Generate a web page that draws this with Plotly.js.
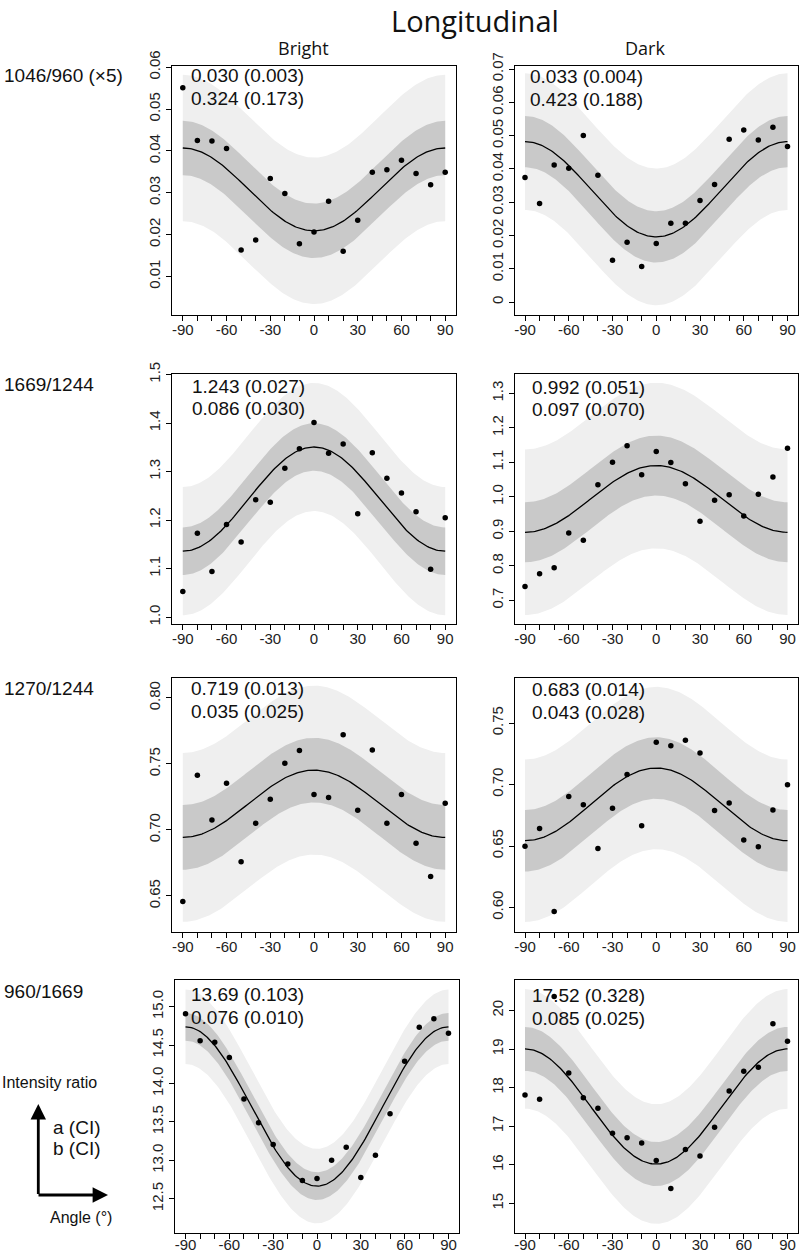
<!DOCTYPE html>
<html><head><meta charset="utf-8">
<script src="https://cdn.plot.ly/plotly-3.0.1.min.js"></script>
<style>html,body{margin:0;padding:0;background:#fff;} #chart{width:800px;height:1253px;}</style>
</head><body><div id="chart"></div>
<script>
// ---------- data ----------
const angleDeg = [-90,-80,-70,-60,-50,-40,-30,-20,-10,0,10,20,30,40,50,60,70,80,90];
const bright1046 = [0.0551,0.0425,0.0424,0.0406,0.0163,0.0187,0.0334,0.0298,0.0178,0.0206,0.0280,0.0160,0.0234,0.0349,0.0355,0.0378,0.0346,0.0319,0.0349];
const dark1046   = [0.0374,0.0296,0.0412,0.0402,0.0500,0.0381,0.0126,0.0180,0.0107,0.0176,0.0237,0.0237,0.0305,0.0353,0.0489,0.0517,0.0487,0.0525,0.0467];
const bright1669 = [1.053,1.173,1.094,1.191,1.155,1.242,1.237,1.307,1.347,1.401,1.338,1.357,1.213,1.339,1.286,1.256,1.217,1.099,1.205];
const dark1669   = [0.740,0.777,0.794,0.895,0.874,1.035,1.100,1.148,1.064,1.131,1.099,1.038,0.929,0.990,1.006,0.944,1.007,1.057,1.141];
const bright1270 = [0.6457,0.7415,0.7075,0.7354,0.6759,0.7050,0.7232,0.7506,0.7602,0.7268,0.7245,0.7721,0.7149,0.7605,0.7050,0.7268,0.6898,0.6647,0.7202];
const dark1270   = [0.6499,0.6643,0.5968,0.6903,0.6836,0.6480,0.6808,0.7082,0.6665,0.7343,0.7316,0.7359,0.7256,0.6789,0.6849,0.6548,0.6494,0.6792,0.6998];
const bright960  = [14.909,14.555,14.537,14.338,13.798,13.490,13.205,12.954,12.738,12.764,13.002,13.170,12.777,13.067,13.607,14.291,14.732,14.844,14.654];
const dark960    = [17.811,17.699,20.36,18.382,17.742,17.465,16.817,16.704,16.566,16.116,15.389,16.401,16.228,16.972,17.915,18.426,18.529,19.654,19.204];

// fitted cos(2*angle) curve: value at 0 deg and at +/-90 deg, band half-widths
const fitAt0  = [0.0209, 0.0196, 1.3506, 1.0905, 0.7453, 0.7134, 12.665, 16.021];
const fitAt90 = [0.0407, 0.0482, 1.136,  0.897,  0.6943, 0.6543, 14.738, 19.005];
const ciHalf  = [0.0065, 0.0077, 0.049,  0.087,  0.0245, 0.025,  0.18,   0.57];
const piHalf  = [0.0175, 0.0205, 0.132,  0.24,   0.064,  0.066,  0.485,  1.55];

const paramA = ["0.030 (0.003)","0.033 (0.004)","1.243 (0.027)","0.992 (0.051)","0.719 (0.013)","0.683 (0.014)","13.69 (0.103)","17.52 (0.328)"];
const paramB = ["0.324 (0.173)","0.423 (0.188)","0.086 (0.030)","0.097 (0.070)","0.035 (0.025)","0.043 (0.028)","0.076 (0.010)","0.085 (0.025)"];
const rowLabels = ["1046/960 (×5)","1669/1244","1270/1244","960/1669"];
const colLabels = ["Bright","Dark"];
const mainTitle = "Longitudinal";

const xTickVals = [-90,-80,-70,-60,-50,-40,-30,-20,-10,0,10,20,30,40,50,60,70,80,90];
const xTickText = ["-90","","","-60","","","-30","","","0","","","30","","","60","","","90"];
const yTickVals = [
  [0.01,0.02,0.03,0.04,0.05,0.06],
  [0,0.01,0.02,0.03,0.04,0.05,0.06,0.07],
  [1.0,1.1,1.2,1.3,1.4,1.5],
  [0.7,0.8,0.9,1.0,1.1,1.2,1.3],
  [0.65,0.70,0.75,0.80],
  [0.60,0.65,0.70,0.75],
  [12.5,13.0,13.5,14.0,14.5,15.0],
  [15,16,17,18,19,20]
];
const yTickText = [
  ["0.01","0.02","0.03","0.04","0.05","0.06"],
  ["0","0.01","0.02","0.03","0.04","0.05","0.06","0.07"],
  ["1.0","1.1","1.2","1.3","1.4","1.5"],
  ["0.7","0.8","0.9","1.0","1.1","1.2","1.3"],
  ["0.65","0.70","0.75","0.80"],
  ["0.60","0.65","0.70","0.75"],
  ["12.5","13.0","13.5","14.0","14.5","15.0"],
  ["15","16","17","18","19","20"]
];
const series = [bright1046, dark1046, bright1669, dark1669, bright1270, dark1270, bright960, dark960];

// ---------- layout geometry (pixels) ----------
const W = 800, H = 1253;
const px = x => x / W;
const py = y => 1 - y / H;
const rowTop = [66, 374, 677.5, 980];
const rowBot = [314.5, 624, 931.5, 1233];
const colL = [[172.3,514.5],[172.3,514.5],[172.3,514.5],[175,514.5]];
const colR = [[455.7,798],[455.7,798],[455.7,798],[459,798]];
const yRanges = [[0.0009,0.0603],[-0.0037,0.0709],[0.986,1.501],[0.631,1.356],[0.623,0.8155],[0.5805,0.787],[12.055,15.347],[14.235,20.79]];
const annA = [[189,75.5],[528,76.5],[190,386],[530,387],[189,688.5],[530,689.5],[189,995],[530,995.5]];
const lineGap = 22.5;
const rowLabelY = [76, 384, 688, 991];
const xLabelShift = [-4, -4, -4, -7];

const FONT = "Liberation Sans, Arial, sans-serif";
const HFONT = "Open Sans, sans-serif";

const fineAngles = [];
for (let a = -90; a <= 90; a += 1) fineAngles.push(a);

const traces = [];
const layout = {
  width: W, height: H,
  margin: {l:0, r:0, t:0, b:0},
  paper_bgcolor: "#fff", plot_bgcolor: "#fff",
  showlegend: false,
  annotations: [], shapes: []
};

for (let i = 0; i < 8; i++) {
  const row = Math.floor(i / 2), col = i % 2;
  const sfx = i === 0 ? "" : String(i + 1);
  const xa = "x" + sfx, ya = "y" + sfx;
  const mid = (fitAt0[i] + fitAt90[i]) / 2, amp = (fitAt0[i] - fitAt90[i]) / 2;
  const fit = fineAngles.map(a => mid + amp * Math.cos(2 * a * Math.PI / 180));
  const rev = fineAngles.slice().reverse();
  const bandX = fineAngles.concat(rev);
  const fitRev = fit.slice().reverse();
  traces.push({
    x: bandX, y: fit.map(v => v + piHalf[i]).concat(fitRev.map(v => v - piHalf[i])),
    xaxis: xa, yaxis: ya, type: "scatter", mode: "lines", fill: "toself",
    fillcolor: "#efefef", line: {width: 0, color: "rgba(0,0,0,0)"}, hoverinfo: "skip"
  });
  traces.push({
    x: bandX, y: fit.map(v => v + ciHalf[i]).concat(fitRev.map(v => v - ciHalf[i])),
    xaxis: xa, yaxis: ya, type: "scatter", mode: "lines", fill: "toself",
    fillcolor: "#c9c9c9", line: {width: 0, color: "rgba(0,0,0,0)"}, hoverinfo: "skip"
  });
  traces.push({
    x: fineAngles, y: fit, xaxis: xa, yaxis: ya, type: "scatter", mode: "lines",
    line: {color: "#000", width: 1.3}
  });
  traces.push({
    x: angleDeg, y: series[i], xaxis: xa, yaxis: ya, type: "scatter", mode: "markers",
    marker: {color: "#000", size: 5.5}
  });

  const axCommon = {
    showline: true, mirror: true, linecolor: "#000", linewidth: 1,
    ticks: "outside", ticklen: 5, tickcolor: "#000", tickwidth: 1,
    showgrid: false, zeroline: false,
    tickfont: {family: FONT, size: 15, color: "#222"}
  };
  layout["xaxis" + sfx] = Object.assign({}, axCommon, {
    domain: [px(colL[row][col]), px(colR[row][col])],
    anchor: ya, range: [-97.2, 97.2],
    tickmode: "array", tickvals: xTickVals, ticktext: xTickText, tickangle: 0,
    ticklabelstandoff: xLabelShift[row]
  });
  layout["yaxis" + sfx] = Object.assign({}, axCommon, {
    domain: [py(rowBot[row]), py(rowTop[row])],
    anchor: xa, range: yRanges[i],
    tickmode: "array", tickvals: yTickVals[i], ticktext: yTickText[i], tickangle: -90
  });

  layout.annotations.push({
    xref: "paper", yref: "paper", x: px(annA[i][0]), y: py(annA[i][1]),
    xanchor: "left", yanchor: "middle", showarrow: false, text: paramA[i],
    font: {family: FONT, size: 19, color: "#111"}
  });
  layout.annotations.push({
    xref: "paper", yref: "paper", x: px(annA[i][0]), y: py(annA[i][1] + lineGap),
    xanchor: "left", yanchor: "middle", showarrow: false, text: paramB[i],
    font: {family: FONT, size: 19, color: "#111"}
  });
}

// title, column headers, row labels
layout.annotations.push({xref:"paper", yref:"paper", x:px(475), y:py(20), xanchor:"center", yanchor:"middle",
  showarrow:false, text: mainTitle, font:{family:HFONT, size:29, color:"#111"}});
layout.annotations.push({xref:"paper", yref:"paper", x:px(303), y:py(48), xanchor:"center", yanchor:"middle",
  showarrow:false, text: colLabels[0], font:{family:HFONT, size:18, color:"#111"}});
layout.annotations.push({xref:"paper", yref:"paper", x:px(645), y:py(48), xanchor:"center", yanchor:"middle",
  showarrow:false, text: colLabels[1], font:{family:HFONT, size:18, color:"#111"}});
for (let r = 0; r < 4; r++) {
  layout.annotations.push({xref:"paper", yref:"paper", x:px(2), y:py(rowLabelY[r]), xanchor:"left", yanchor:"middle",
    showarrow:false, text: rowLabels[r], font:{family:FONT, size:19, color:"#111"}});
}

// key in the lower-left corner
layout.annotations.push({xref:"paper", yref:"paper", x:px(0), y:py(1082), xanchor:"left", yanchor:"middle",
  showarrow:false, text:"Intensity ratio", font:{family:FONT, size:16, color:"#111"}});
layout.annotations.push({xref:"paper", yref:"paper", x:px(51), y:py(1127), xanchor:"left", yanchor:"middle",
  showarrow:false, text:"a (CI)", font:{family:FONT, size:19, color:"#111"}});
layout.annotations.push({xref:"paper", yref:"paper", x:px(51), y:py(1148.5), xanchor:"left", yanchor:"middle",
  showarrow:false, text:"b (CI)", font:{family:FONT, size:19, color:"#111"}});
layout.annotations.push({xref:"paper", yref:"paper", x:px(48), y:py(1217), xanchor:"left", yanchor:"middle",
  showarrow:false, text:"Angle (°)", font:{family:FONT, size:16, color:"#111"}});
layout.annotations.push({xref:"paper", yref:"paper", x:px(38.3), y:py(1104), ax:0, ay:91.5, axref:"pixel", ayref:"pixel",
  showarrow:true, text:"", arrowhead:2, arrowsize:1.1, arrowwidth:2.8, arrowcolor:"#000", standoff:0, startstandoff:0});
layout.annotations.push({xref:"paper", yref:"paper", x:px(108), y:py(1195), ax:-71, ay:0, axref:"pixel", ayref:"pixel",
  showarrow:true, text:"", arrowhead:2, arrowsize:1.1, arrowwidth:2.8, arrowcolor:"#000", standoff:0, startstandoff:0});

Plotly.newPlot("chart", traces, layout, {displayModeBar: false, staticPlot: true});
</script>
</body></html>
